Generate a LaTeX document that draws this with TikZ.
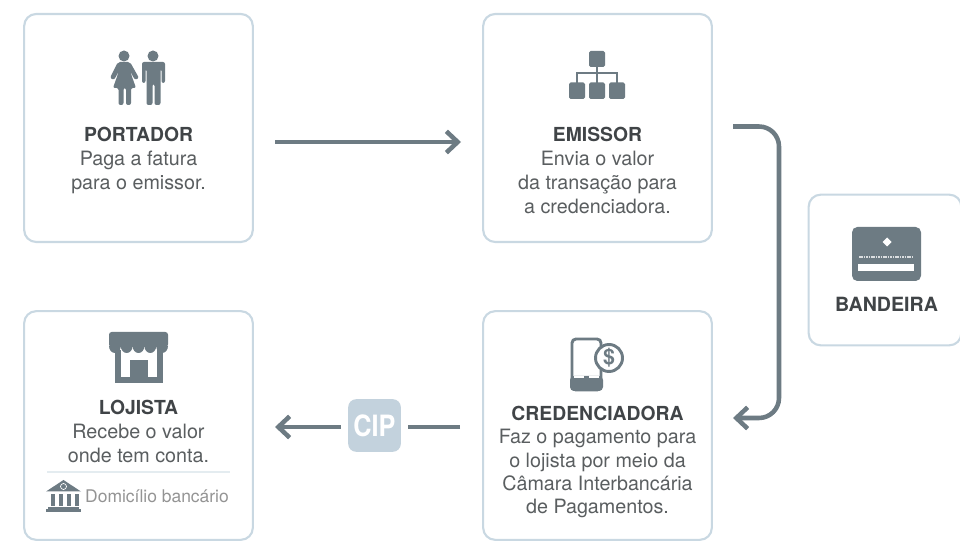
\documentclass[tikz,border=0pt]{standalone}
\usepackage{fontspec}
\setmainfont{TeX Gyre Heros}
\usetikzlibrary{arrows.meta}
\definecolor{icone}{HTML}{6D7B83}
\definecolor{borda}{HTML}{C9D8E2}
\definecolor{selo}{HTML}{C3D2DD}
\definecolor{titulo}{HTML}{404447}
\definecolor{corpo}{HTML}{5A5E60}
\newcommand{\titulo}[1]{\textcolor{titulo}{\fontsize{14.5}{18}\bfseries #1}}
\tikzset{
  etapa/.style={draw=borda, line width=1.6pt, rounded corners=9pt, fill=white, inner sep=0pt},
  texto/.style={align=center, inner sep=0pt, text=corpo, font=\fontsize{14.8}{18}\selectfont},
  fluxo/.style={draw=icone, line width=3.4pt},
  seta/.style={fluxo, -{Straight Barb[length=8.5pt, width=16pt, line width=3.4pt]}},
}
\begin{document}
\begin{tikzpicture}[x=.75pt, y=-.75pt]
  \useasboundingbox (0,0) rectangle (960,548);

  % caixas
  \node[etapa, minimum width=171.5pt, minimum height=171pt] (portador) at (138.5,128) {};
  \node[etapa, minimum width=171.5pt, minimum height=171pt] (emissor) at (597.5,128) {};
  \node[etapa, minimum width=171.5pt, minimum height=171.5pt] (lojista) at (138.5,425.5) {};
  \node[etapa, minimum width=171.5pt, minimum height=171.5pt] (credenciadora) at (597.5,425.5) {};
  \node[etapa, minimum width=114.5pt, minimum height=113pt] (bandeira) at (885,270) {};

  % textos
  \node[texto] (portadortxt) at (138.5,160.5) {\titulo{PORTADOR}\\Paga a fatura\\para o emissor.};
  \node[texto] (emissortxt) at (597.5,170) {\titulo{EMISSOR}\\Envia o valor\\da transação para\\a credenciadora.};
  \node[texto] (lojistatxt) at (138.5,431.5) {\titulo{LOJISTA}\\Recebe o valor\\onde tem conta.};
  \node[texto, font=\fontsize{14.8}{17.5}\selectfont] (credenciadoratxt) at (597.5,462) {\titulo{CREDENCIADORA}\\Faz o pagamento para\\o lojista por meio da\\Câmara Interbancária\\de Pagamentos.};
  \node[texto, text=titulo, font=\fontsize{14.7}{18}\bfseries] (bandeiratxt) at (886.5,304) {BANDEIRA};
  \node[texto, text=black!42, font=\fontsize{13.1}{16}\selectfont] (domiciliotxt) at (157,496) {Domicílio bancário};
  \draw[borda!50, line width=.8pt] (47,472) -- (230,472);

  % conectores
  \coordinate (p1) at (275,142);
  \coordinate (e1) at (461,142);
  \coordinate (e2) at (733,126.5);
  \coordinate (c1) at (733,418);
  \coordinate (c2) at (460,427);
  \coordinate (l1) at (275,427);
  \node[fill=selo, rounded corners=6pt, minimum width=39.5pt, minimum height=39.5pt, inner sep=0pt, outer sep=5.5pt,
    text=white, font=\fontsize{22}{22}\bfseries] (cip) at (374.5,425.5) {\scalebox{.86}[1]{CIP}};
  \draw[seta] (p1) -- (e1);
  \draw[seta, rounded corners=15pt] (e2) -- (779,126.5) -- (779,418) -- (c1);
  \draw[fluxo] (c2) -- (c2 -| cip.east);
  \draw[seta] (c2 -| cip.west) -- (l1);

  % portador
  \fill[icone] (124,56) circle[radius=5.5];
  \fill[icone, rounded corners=1.5pt] (118,62) -- (130,62) -- (139,78) -- (135,80) -- (130,71) -- (136,88) -- (131,88)
    -- (131,105) -- (126,105) -- (126,88) -- (123.5,88) -- (123.5,105) -- (118.5,105) -- (118.5,88) -- (113,88)
    -- (119,71) -- (114,80) -- (110,78) -- cycle;
  \fill[icone] (153,56) circle[radius=5.5];
  \fill[icone, rounded corners=1.5pt] (142,62) -- (165,62) -- (165,83) -- (161.5,83) -- (161.5,69) -- (160.5,69) -- (160.5,105)
    -- (154.5,105) -- (154.5,84) -- (152.5,84) -- (152.5,105) -- (146.5,105) -- (146.5,69) -- (145.5,69) -- (145.5,83) -- (142,83) -- cycle;

  % emissor
  \draw[icone, line width=1.8pt] (597,60) -- (597,90) (577,90) -- (577,73) -- (617,73) -- (617,90);
  \fill[icone, rounded corners=1.2pt] (589,51) rectangle (605,67);
  \foreach \x in {569,589,609} {
    \fill[icone, rounded corners=1.2pt] (\x,82.5) rectangle (\x+16,99);
  }

  % bandeira
  \fill[icone, rounded corners=4pt] (852,227) rectangle (921,281);
  \fill[white] (887,237.5) -- (891.5,242) -- (887,246.5) -- (882.5,242) -- cycle;
  \draw[white!75!icone, line width=1.5pt, dash pattern=on 1.2pt off .6pt] (859,257) -- (914,257);
  \fill[white] (858,264) rectangle (914,271);

  % credenciadora
  \fill[icone, rounded corners=3pt] (570,376) rectangle (603,391);
  \draw[icone, line width=2.2pt, rounded corners=3pt] (572,339) rectangle (601,390);
  \draw[white, line width=.9pt] (574,377) -- (584,377) (589,377) -- (599,377);
  \draw[icone, line width=2.2pt, fill=white] (609,358) circle[radius=13.5];
  \node[text=icone, inner sep=0pt, font=\fontsize{16}{16}\bfseries] (cifrao) at (609,358) {\$};

  % lojista
  \fill[icone] (115,350) rectangle (121,383);
  \fill[icone] (157,350) rectangle (163,383);
  \fill[icone] (115,377) rectangle (163,383);
  \fill[icone] (130,360) rectangle (148,380);
  \fill[icone, rounded corners=2pt] (109,332) rectangle (168,347);
  \foreach \x in {114.9,126.7,138.5,150.3,162.1} {
    \fill[icone] (\x-5.9,346) arc[start angle=180, end angle=0, x radius=5.9, y radius=7] -- cycle;
  }

  % domicilio
  \fill[icone] (63.5,480) -- (81,491.5) -- (46,491.5) -- cycle;
  \draw[white, line width=.5pt] (63.5,486.5) circle[radius=3];
  \foreach \x in {51,59,67,75} {
    \fill[icone] (\x,494) rectangle (\x+4,506);
  }
  \fill[icone] (48,507) rectangle (79,509);
  \fill[icone] (46,509.5) rectangle (81,512.5);
\end{tikzpicture}
\end{document}
